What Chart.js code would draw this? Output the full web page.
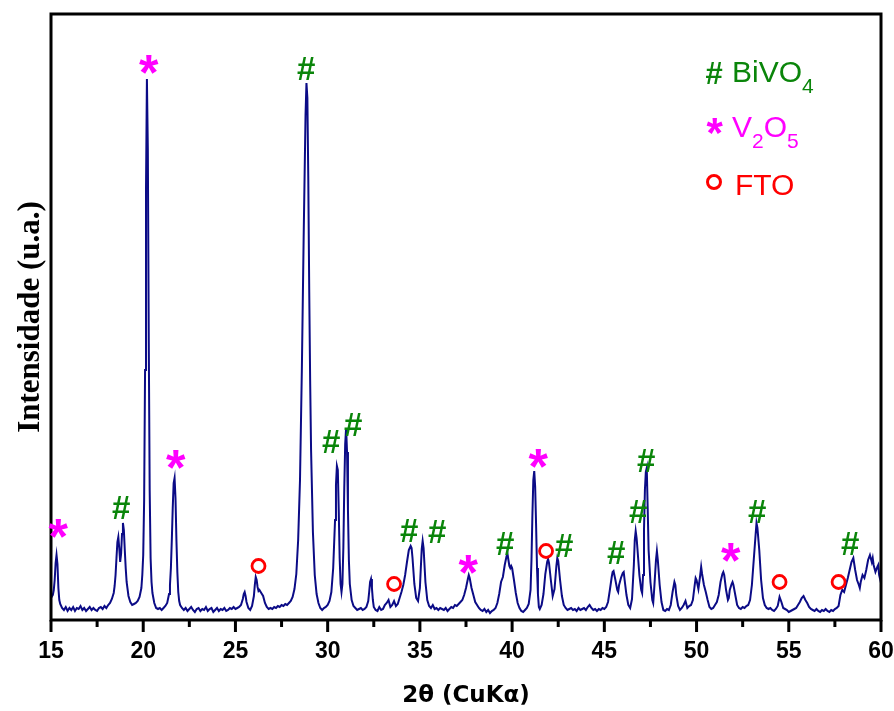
<!DOCTYPE html>
<html>
<head>
<meta charset="utf-8">
<script src="https://cdn.jsdelivr.net/npm/chart.js@4.4.0/dist/chart.umd.min.js"></script>
<style>
  body { margin: 0; background: #fff; }
</style>
</head>
<body>
<canvas id="xrd" width="894" height="711"></canvas>
<script>
// XRD scan: [2theta, intensity (a.u.)]
var scan = [
  [15.0,22],[15.1,25],[15.15,30],[15.2,40],[15.25,57],[15.3,65],[15.35,56],[15.4,32],[15.45,20],[15.5,16],[15.6,12],[15.7,10],[15.8,13],[15.9,9],
  [16.0,12],[16.1,10],[16.2,13],[16.3,9],[16.4,12],[16.5,11],[16.6,14],[16.7,10],[16.8,12],[16.9,9],[17.0,11],[17.1,13],[17.2,10],[17.3,12],[17.4,10],
  [17.5,9],[17.6,12],[17.7,13],[17.8,11],[17.9,14],[18.0,12],[18.1,15],[18.2,17],[18.3,21],[18.4,27],[18.45,34],[18.5,45],[18.55,62],[18.6,78],
  [18.65,83],[18.7,72],[18.75,58],[18.8,66],[18.85,86],[18.9,97],[18.95,90],[19.0,70],[19.05,52],[19.1,38],[19.2,24],[19.3,18],[19.4,15],[19.5,16],
  [19.6,17],[19.7,19],[19.8,23],[19.9,32],[19.95,45],[20.0,65],[20.05,120],[20.1,250],[20.15,430],[20.2,541],[20.25,470],[20.3,280],[20.35,130],
  [20.4,62],[20.45,38],[20.5,27],[20.6,17],[20.7,12],[20.8,11],[20.9,12],[21.0,10],[21.1,12],[21.2,14],[21.3,17],[21.4,26],[21.45,35],[21.5,52],
  [21.55,80],[21.6,112],[21.65,137],[21.7,142],[21.75,122],[21.8,80],[21.85,48],[21.9,28],[21.95,19],[22.0,15],[22.1,12],[22.2,10],
  [22.3,12],[22.4,9],[22.5,11],[22.6,13],[22.7,10],[22.8,8],[22.9,11],[23.0,12],[23.1,9],[23.2,11],[23.3,10],[23.4,13],[23.5,9],[23.6,11],[23.7,12],
  [23.8,8],[23.9,10],[24.0,12],[24.1,9],[24.2,11],[24.3,10],[24.4,12],[24.5,9],[24.6,10],[24.7,12],[24.8,11],[24.9,13],[25.0,11],[25.1,12],[25.2,13],
  [25.3,15],[25.4,21],[25.45,26],[25.5,28],[25.55,24],[25.6,18],[25.7,12],[25.8,10],[25.9,14],[26.0,24],[26.05,35],[26.1,43],[26.15,40],[26.2,33],
  [26.25,29],[26.3,30],[26.4,27],[26.5,24],[26.6,17],[26.7,13],[26.8,11],[26.9,12],[27.0,11],[27.1,13],[27.2,12],[27.3,14],[27.4,13],[27.5,15],
  [27.6,14],[27.7,16],[27.8,15],[27.9,17],[28.0,19],[28.1,23],[28.2,31],[28.3,46],[28.4,80],[28.5,140],[28.6,250],[28.7,385],[28.8,505],[28.85,537],
  [28.9,522],[28.95,440],[29.0,330],[29.05,240],[29.1,170],[29.2,88],[29.3,45],[29.4,26],[29.5,17],[29.6,12],[29.7,10],[29.8,12],[29.9,13],[30.0,15],
  [30.1,19],[30.2,28],[30.3,52],[30.4,100],[30.45,135],[30.5,154],[30.55,150],[30.6,110],[30.65,62],[30.7,36],[30.75,28],[30.8,36],[30.85,72],
  [30.9,132],[30.95,176],[31.0,192],[31.05,168],[31.1,110],[31.15,60],[31.2,36],[31.3,20],[31.4,14],[31.5,12],[31.6,10],[31.7,11],[31.8,12],[31.9,10],
  [32.0,11],[32.1,13],[32.2,19],[32.25,28],[32.3,38],[32.35,41],[32.4,32],[32.45,20],[32.5,13],[32.6,10],[32.7,9],[32.8,13],[32.9,10],[33.0,11],
  [33.1,15],[33.2,17],[33.3,20],[33.4,13],[33.5,15],[33.6,19],[33.7,14],[33.8,16],[33.9,22],[34.0,28],[34.1,35],[34.2,45],[34.3,58],[34.4,70],
  [34.5,74],[34.55,72],[34.6,62],[34.7,36],[34.8,22],[34.9,19],[35.0,32],[35.05,52],[35.1,71],[35.15,79],[35.2,72],[35.25,55],[35.3,38],[35.4,20],
  [35.5,14],[35.6,12],[35.7,15],[35.8,11],[35.9,12],[36.0,10],[36.1,12],[36.2,11],[36.3,10],[36.4,12],[36.5,9],[36.6,11],[36.7,13],[36.8,12],
  [36.9,15],[37.0,14],[37.1,16],[37.2,18],[37.3,20],[37.4,25],[37.5,32],[37.6,41],[37.65,45],[37.7,42],[37.8,32],[37.9,25],[38.0,18],[38.1,15],
  [38.2,12],[38.3,10],[38.4,9],[38.5,11],[38.6,8],[38.7,10],[38.8,7],[38.9,9],[39.0,10],[39.1,12],[39.2,17],[39.3,26],[39.4,38],[39.5,43],[39.6,55],
  [39.7,64],[39.75,66],[39.8,60],[39.85,54],[39.9,52],[39.95,54],[40.0,52],[40.1,40],[40.2,27],[40.3,17],[40.4,12],[40.5,9],[40.6,8],[40.7,10],
  [40.8,12],[40.9,16],[41.0,30],[41.05,60],[41.1,105],[41.15,140],[41.2,149],[41.25,133],[41.3,95],[41.35,52],[41.4,26],[41.45,13],[41.5,11],
  [41.6,15],[41.7,26],[41.8,46],[41.9,58],[41.95,61],[42.0,57],[42.1,40],[42.2,24],[42.3,31],[42.4,54],[42.45,62],[42.5,59],[42.6,40],[42.7,24],
  [42.8,15],[42.9,12],[43.0,10],[43.1,11],[43.2,12],[43.3,10],[43.4,11],[43.5,9],[43.6,12],[43.7,10],[43.8,11],[43.9,12],[44.0,10],[44.1,13],
  [44.2,15],[44.3,12],[44.4,10],[44.5,11],[44.6,9],[44.7,11],[44.8,10],[44.9,12],[45.0,11],[45.1,13],[45.2,18],[45.3,30],[45.4,43],[45.45,48],
  [45.5,49],[45.6,40],[45.7,30],[45.75,28],[45.8,35],[45.9,42],[46.0,47],[46.05,48],[46.1,40],[46.2,25],[46.3,15],[46.4,12],[46.5,21],[46.6,55],
  [46.65,80],[46.7,89],[46.75,82],[46.8,70],[46.9,45],[47.0,30],[47.05,27],[47.1,45],[47.15,90],[47.2,130],[47.25,148],[47.3,152],[47.35,112],
  [47.4,70],[47.5,38],[47.6,20],[47.65,17],[47.7,30],[47.8,60],[47.85,69],[47.9,60],[48.0,35],[48.1,18],[48.2,10],[48.3,9],[48.4,11],[48.5,10],
  [48.6,15],[48.7,28],[48.8,38],[48.85,35],[48.9,25],[49.0,14],[49.1,10],[49.2,12],[49.3,15],[49.4,19],[49.5,12],[49.6,14],[49.7,15],[49.8,20],
  [49.9,35],[49.95,42],[50.0,40],[50.1,31],[50.2,45],[50.25,53],[50.3,46],[50.4,35],[50.5,28],[50.6,20],[50.7,13],[50.8,11],[50.9,12],[51.0,15],
  [51.1,18],[51.2,25],[51.3,38],[51.4,46],[51.45,48],[51.5,45],[51.6,30],[51.7,20],[51.75,22],[51.8,30],[51.9,36],[51.95,38],[52.0,35],[52.1,25],
  [52.2,15],[52.3,12],[52.4,11],[52.5,13],[52.6,12],[52.7,14],[52.8,15],[52.9,20],[53.0,35],[53.1,60],[53.2,85],[53.25,97],[53.3,92],[53.4,70],
  [53.5,40],[53.6,22],[53.7,15],[53.8,12],[53.9,11],[54.0,12],[54.1,10],[54.2,9],[54.3,11],[54.4,14],[54.5,23],[54.6,18],[54.7,12],[54.8,11],
  [54.9,10],[55.0,8],[55.1,9],[55.2,10],[55.3,11],[55.4,12],[55.5,15],[55.6,18],[55.7,22],[55.8,24],[55.9,20],[56.0,17],[56.1,13],[56.2,11],
  [56.3,10],[56.4,9],[56.5,11],[56.6,9],[56.7,8],[56.8,10],[56.9,9],[57.0,11],[57.1,9],[57.2,8],[57.3,10],[57.4,9],[57.5,11],[57.6,12],[57.7,14],
  [57.8,25],[57.9,30],[58.0,28],[58.1,35],[58.2,42],[58.3,50],[58.4,58],[58.5,62],[58.6,50],[58.7,40],[58.8,35],[58.85,32],[58.9,38],[59.0,45],
  [59.1,42],[59.2,50],[59.3,60],[59.4,65],[59.5,58],[59.55,62],[59.6,55],[59.7,48],[59.8,53],[59.85,55],[59.9,45],[60.0,37]
];

// phase markers placed above the reflections: [2theta, intensity]
var bivo4Marks = [[18.8,113],[28.83,552],[30.18,179],[31.37,196],[34.41,90],[35.93,89],[39.61,77],[42.81,75],
                  [45.63,68],[46.83,109],[47.26,160],[53.28,109],[58.32,77]];
var v2o5Marks = [[15.41,92],[20.31,556],[21.78,161],[37.64,56],[41.43,162],[51.87,68]];
var ftoMarks = [[26.25,54],[33.6,36],[41.84,69],[54.5,38],[57.7,38]];

var xTicks = [15, 20, 25, 30, 35, 40, 45, 50, 55, 60];

var GREEN = '#0a850a', MAGENTA = '#ff00ff', RED = '#ff0000';
var SANS = '"Liberation Sans", Arial, sans-serif';

// draws a glyph centred on (x, y) using its real ink box
function glyph(c, ch, x, y) {
    var m = c.measureText(ch);
    c.textAlign = 'left';
    c.textBaseline = 'alphabetic';
    c.fillText(ch, x - (m.actualBoundingBoxRight - m.actualBoundingBoxLeft) / 2,
                   y + (m.actualBoundingBoxAscent - m.actualBoundingBoxDescent) / 2);
}

function ring(c, x, y) {
    c.beginPath();
    c.arc(x, y, 6.5, 0, Math.PI * 2);
    c.stroke();
}

// text with subscripts: parts = [[text, isSub], ...]
function chem(c, parts, x, base) {
    c.textAlign = 'left';
    c.textBaseline = 'alphabetic';
    parts.forEach(function(p) {
        c.font = p[1] ? '21px ' + SANS : '30px ' + SANS;
        c.fillText(p[0], x, p[1] ? base + 11 : base);
        x += c.measureText(p[0]).width;
    });
}

var decor = {
    id: 'decor',
    afterDatasetsDraw: function(chart) {
        var c = chart.ctx, a = chart.chartArea;
        var xs = chart.scales.x, ys = chart.scales.y;
        c.save();

        // frame
        c.strokeStyle = '#000';
        c.lineWidth = 3;
        c.strokeRect(a.left, a.top, a.right - a.left, a.bottom - a.top);

        // outward tick marks, long on the labelled ones
        xs.ticks.forEach(function(t) {
            var px = xs.getPixelForValue(t.value);
            var len = xTicks.indexOf(t.value) >= 0 ? 12 : 7;
            c.beginPath();
            c.moveTo(px, a.bottom);
            c.lineTo(px, a.bottom + len);
            c.stroke();
        });

        // phase markers
        c.fillStyle = GREEN;
        c.font = 'bold 33px ' + SANS;
        bivo4Marks.forEach(function(p) {
            glyph(c, '#', xs.getPixelForValue(p[0]), ys.getPixelForValue(p[1]));
        });
        c.fillStyle = MAGENTA;
        c.font = 'bold 50px ' + SANS;
        v2o5Marks.forEach(function(p) {
            glyph(c, '*', xs.getPixelForValue(p[0]), ys.getPixelForValue(p[1]));
        });
        c.strokeStyle = RED;
        c.lineWidth = 2.8;
        ftoMarks.forEach(function(p) {
            ring(c, xs.getPixelForValue(p[0]), ys.getPixelForValue(p[1]));
        });

        // key
        c.fillStyle = GREEN;
        c.font = 'bold 31px ' + SANS;
        glyph(c, '#', 714, 73);
        chem(c, [['BiVO', false], ['4', true]], 732, 82);

        c.fillStyle = MAGENTA;
        c.font = 'bold 42px ' + SANS;
        glyph(c, '*', 715, 126);
        chem(c, [['V', false], ['2', true], ['O', false], ['5', true]], 732, 137);

        c.strokeStyle = RED;
        c.lineWidth = 3;
        ring(c, 714, 182);
        c.fillStyle = RED;
        chem(c, [['FTO', false]], 735, 195);

        c.restore();
    }
};

new Chart(document.getElementById('xrd'), {
    type: 'line',
    data: {
        datasets: [{
            data: scan.map(function(p) { return { x: p[0], y: p[1] }; }),
            borderColor: '#0b0b86',
            borderWidth: 2,
            pointRadius: 0,
            tension: 0,
            fill: false
        }]
    },
    options: {
        responsive: false,
        animation: false,
        layout: { padding: { top: 14, right: 13, left: 0, bottom: 0 } },
        plugins: { legend: { display: false }, tooltip: { enabled: false } },
        scales: {
            x: {
                type: 'linear',
                min: 15,
                max: 60,
                afterFit: function(s) {
                    s.height = 91;
                    s.paddingLeft = 0;
                    s.paddingRight = 0;
                },
                grid: { display: false, drawTicks: false },
                border: { display: false },
                ticks: {
                    stepSize: 2.5,
                    autoSkip: false,
                    maxRotation: 0,
                    padding: 18,
                    color: '#000',
                    font: { family: SANS, size: 23, weight: 'bold' },
                    callback: function(v) { return xTicks.indexOf(v) >= 0 ? v : ''; }
                },
                title: {
                    display: true,
                    text: '2θ (CuKα)',
                    color: '#000',
                    font: { family: '"DejaVu Sans", sans-serif', size: 23, weight: 'bold' },
                    padding: { top: 0, bottom: 1 }
                }
            },
            y: {
                min: 0,
                max: 606,
                afterFit: function(s) { s.width = 51; },
                grid: { display: false },
                border: { display: false },
                ticks: { display: false },
                title: {
                    display: true,
                    text: 'Intensidade (u.a.)',
                    color: '#000',
                    font: { family: '"Liberation Serif", "Times New Roman", serif', size: 31, weight: 'bold' },
                    padding: { top: 12, bottom: 0 }
                }
            }
        }
    },
    plugins: [decor]
});
</script>
</body>
</html>
